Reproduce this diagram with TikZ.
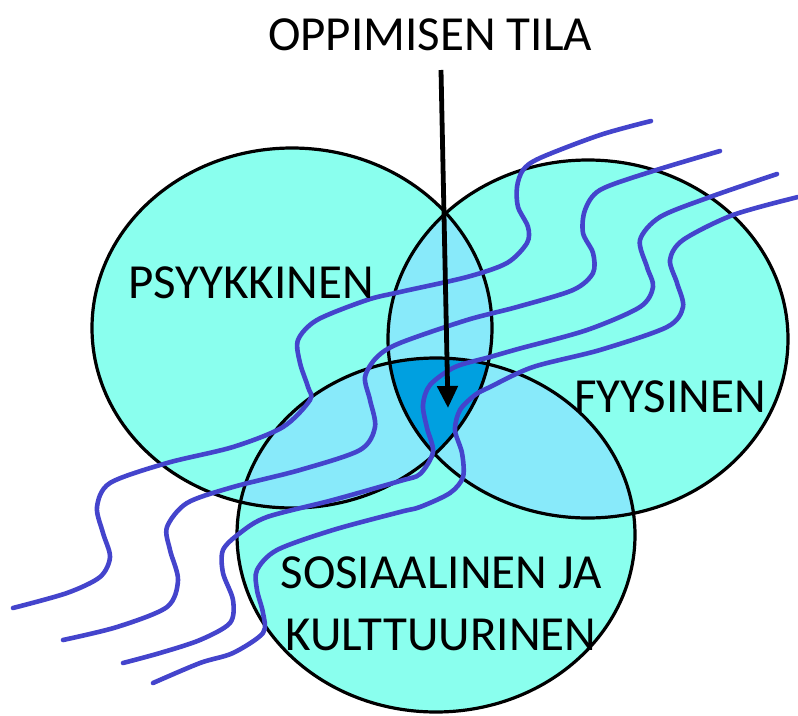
\documentclass[tikz,border=0pt]{standalone}
\usepackage{fontspec}
\setmainfont{Carlito}
\usetikzlibrary{arrows.meta}
\definecolor{basecol}{RGB}{138,255,238}
\definecolor{paircol}{RGB}{136,234,250}
\definecolor{corecol}{RGB}{0,160,224}
\definecolor{wavecol}{RGB}{68,68,204}
\begin{document}
\begin{tikzpicture}[x=1pt,y=-1pt,
  lbl/.style={font=\fontsize{49}{62}\selectfont, align=center, inner sep=0pt},
  wavy/.style={draw=wavecol, line width=4.6pt, line cap=round, line join=round},
  outline/.style={draw=black, line width=3.2pt}]
\useasboundingbox (0,0) rectangle (798,715);
\def\ellL{(292,328) ellipse [x radius=200pt, y radius=180pt]}
\def\ellR{(588,339) ellipse [x radius=200pt, y radius=179pt]}
\def\ellB{(436,535) ellipse [x radius=199pt, y radius=177pt]}
% fills
\fill[basecol] \ellL;
\fill[basecol] \ellR;
\fill[basecol] \ellB;
\begin{scope}\clip \ellL; \fill[paircol] \ellR; \fill[paircol] \ellB; \end{scope}
\begin{scope}\clip \ellR; \fill[paircol] \ellB; \end{scope}
\begin{scope}\clip \ellL; \clip \ellR; \fill[corecol] \ellB; \end{scope}
% outlines
\draw[outline] \ellL;
\draw[outline] \ellR;
\draw[outline] \ellB;
% waves
\draw[wavy] plot[smooth] coordinates {(13,608) (67,593) (100,577) (110,557) (103,533) (97,507) (110,483) (167,463) (233,447) (283,427) (310,400) (308,387) (300,363) (298,340) (317,320) (367,300) (400,292) (467,277) (507,263) (527,243) (528,227) (518,207) (517,187) (523,170) (540,158) (600,135) (651,121)};
\draw[wavy] plot[smooth] coordinates {(63,640) (117,627) (167,607) (178,580) (170,550) (167,527) (187,503) (233,487) (300,470) (360,450) (375,427) (370,400) (365,377) (377,357) (400,343) (467,320) (517,307) (573,290) (593,273) (593,253) (583,233) (585,210) (600,190) (650,172) (720,151)};
\draw[wavy] plot[smooth] coordinates {(123,663) (160,653) (200,640) (230,623) (233,600) (223,573) (223,550) (240,533) (267,517) (333,500) (400,481) (420,474) (433,452) (427,428) (423,405) (430,385) (455,367) (490,357) (518,349) (587,330) (640,307) (653,287) (647,267) (640,240) (660,217) (710,197) (777,174)};
\draw[wavy] plot[smooth] coordinates {(153,683) (200,663) (233,653) (263,633) (263,613) (257,590) (257,570) (277,550) (333,530) (400,512) (420,507) (450,493) (463,477) (462,453) (455,430) (460,410) (475,395) (490,387) (533,367) (600,350) (667,327) (683,307) (677,283) (670,260) (683,240) (733,215) (798,197)};
% labels
\node[lbl] (title) at (430,35) {OPPIMISEN TILA};
\node[lbl] (psy) at (251,283) {PSYYKKINEN};
\node[lbl] (fyy) at (670,397) {FYYSINEN};
\node[lbl] (sos) at (441,604) {SOSIAALINEN JA\\KULTTUURINEN};
% arrow
\coordinate (tail) at (441,70);
\coordinate (tip) at (448,408);
\draw[line width=4.8pt, -{Triangle[length=22pt,width=20pt]}] (tail) -- (tip);
\end{tikzpicture}
\end{document}
